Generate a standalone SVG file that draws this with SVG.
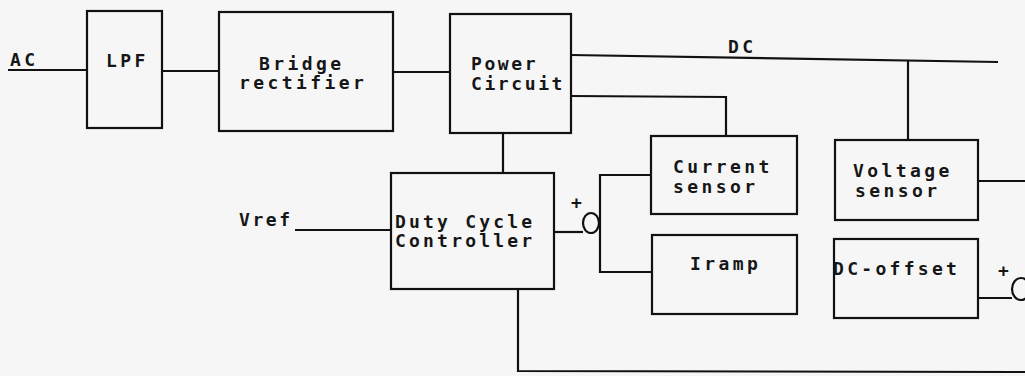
<svg xmlns="http://www.w3.org/2000/svg" width="1025" height="376" viewBox="0 0 1025 376">
<style>
.b{fill:none;stroke:#111;stroke-width:2.2}
.w{fill:none;stroke:#111;stroke-width:2.2;stroke-linejoin:miter}
text{font-family:"DejaVu Sans Mono","Liberation Mono",monospace;font-size:18px;font-weight:bold;fill:#161616;letter-spacing:3.4px}
.p{font-size:18px;letter-spacing:0}
</style>
<rect width="1025" height="376" fill="#f6f6f6"/>
<g id="connectors">
<polyline class="w" points="8,70 87,70"/>
<polyline class="w" points="162,71 219,71"/>
<polyline class="w" points="393,72 450,72"/>
<polyline class="w" points="571,55 998,62"/>
<polyline class="w" points="908,61 908,140"/>
<polyline class="w" points="571,96 726,97 726,136"/>
<polyline class="w" points="503,133 503,173"/>
<polyline class="w" points="295,230 391,230"/>
<polyline class="w" points="554,232 583,232"/>
<ellipse class="w" cx="591" cy="223" rx="8" ry="10"/>
<polyline class="w" points="651,175 600,175 600,272 651,272"/>
<polyline class="w" points="978,181 1025,181"/>
<polyline class="w" points="978,298 1012,298"/>
<ellipse class="w" cx="1021" cy="289" rx="9" ry="11"/>
<polyline class="w" points="518,290 518,371 1025,372"/>
</g>
<g id="ac"><text x="10" y="66">AC</text></g>
<g id="dc"><text x="728" y="53">DC</text></g>
<g id="vref"><text x="239" y="226" style="letter-spacing:2.6px">Vref</text></g>
<g id="plus1"><text class="p" x="571" y="209">+</text></g>
<g id="plus2"><text class="p" x="998" y="277">+</text></g>
<g id="lpf"><rect class="b" x="87" y="11" width="75" height="117"/><text x="106" y="67">LPF</text></g>
<g id="bridge"><rect class="b" x="219" y="12" width="174" height="119"/><text x="259" y="70">Bridge</text><text x="239" y="89">rectifier</text></g>
<g id="power"><rect class="b" x="450" y="14" width="121" height="119"/><text x="471" y="70" style="letter-spacing:2.6px">Power</text><text x="471" y="90" style="letter-spacing:2.6px">Circuit</text></g>
<g id="duty"><rect class="b" x="391" y="173" width="163" height="116"/><text x="395" y="228" style="letter-spacing:3.2px">Duty Cycle</text><text x="395" y="247" style="letter-spacing:3.2px">Controller</text></g>
<g id="current"><rect class="b" x="651" y="136" width="146" height="78"/><text x="673" y="173">Current</text><text x="673" y="193">sensor</text></g>
<g id="voltage"><rect class="b" x="835" y="140" width="143" height="80"/><text x="853" y="177">Voltage</text><text x="855" y="197">sensor</text></g>
<g id="iramp"><rect class="b" x="652" y="235" width="145" height="79"/><text x="690" y="270">Iramp</text></g>
<g id="dcoffset"><rect class="b" x="834" y="239" width="144" height="79"/><text x="833" y="275" style="letter-spacing:3.3px">DC-offset</text></g>
</svg>
